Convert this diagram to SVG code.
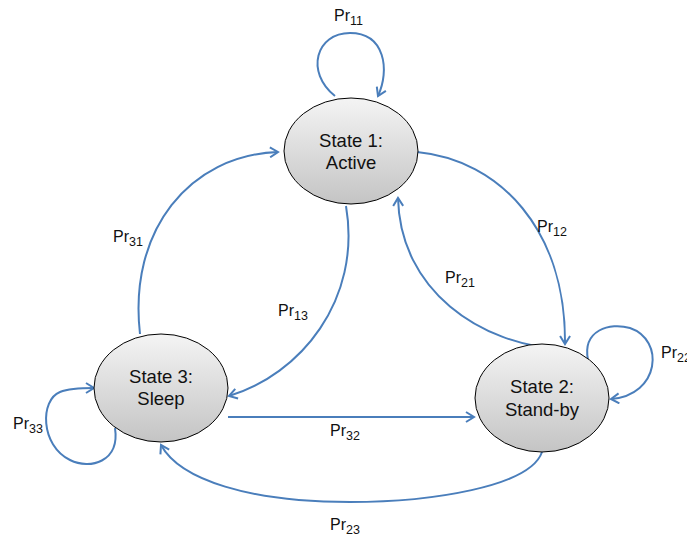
<svg xmlns="http://www.w3.org/2000/svg" width="687" height="542" viewBox="0 0 687 542">
  <style>
    .state { stroke: #000; stroke-width: 1; fill: url(#stateFill); }
    .name { font-family: "Liberation Sans", Arial, sans-serif; font-size: 18.5px; fill: #111; text-anchor: middle; }
    .edge { fill: none; stroke: #4a7ebb; stroke-width: 2; marker-end: url(#head); }
    .lbl { font-family: "Liberation Sans", Arial, sans-serif; font-size: 16px; fill: #111; }
    .sub { font-size: 12.5px; }
  </style>
  <defs>
    <linearGradient id="stateFill" x1="0" y1="0" x2="0" y2="1">
      <stop offset="0" stop-color="#f4f4f4"/>
      <stop offset="1" stop-color="#c4c4c4"/>
    </linearGradient>
    <marker id="head" viewBox="0 0 12 12" refX="10" refY="6" markerWidth="12" markerHeight="12" markerUnits="userSpaceOnUse" orient="auto">
      <path d="M2,1 L10,6 L2,11" fill="none" stroke="#4a7ebb" stroke-width="2"/>
    </marker>
  </defs>

  <!-- transitions -->
  <g id="connectors">
    <path id="e11" class="edge" d="M335,96 C305,72 316,33 350,33 C385,33 390,70 378,96"/>
    <path id="e12" class="edge" d="M417,152 C500,160 566,230 565,344"/>
    <path id="e21" class="edge" d="M562,349 C480,345 400,290 398,198"/>
    <path id="e31" class="edge" d="M140,334 C128,230 190,155 278,152"/>
    <path id="e13" class="edge" d="M346,206 C362,300 300,375 229,396"/>
    <path id="e32" class="edge" d="M228,417 L474,417"/>
    <path id="e23" class="edge" d="M542,452 C530,487 430,502 350,502 C250,502 180,480 161,445"/>
    <path id="e22" class="edge" d="M588,360 C582,330 610,322 630,328 C665,340 660,395 611,399"/>
    <path id="e33" class="edge" d="M115,428 C120,462 90,470 70,460 C40,445 40,400 60,392 C70,388 85,388 94,388"/>
  </g>

  <!-- states -->
  <g id="state1">
    <ellipse class="state" cx="351" cy="151" rx="67" ry="53"/>
    <text class="name" x="351" y="147">State 1:</text>
    <text class="name" x="351" y="169">Active</text>
  </g>
  <g id="state2">
    <ellipse class="state" cx="542" cy="398" rx="67" ry="54"/>
    <text class="name" x="542" y="393">State 2:</text>
    <text class="name" x="542" y="416">Stand-by</text>
  </g>
  <g id="state3">
    <ellipse class="state" cx="161" cy="388" rx="67" ry="54"/>
    <text class="name" x="161" y="383">State 3:</text>
    <text class="name" x="161" y="405">Sleep</text>
  </g>

  <!-- transition probabilities -->
  <g id="labels">
    <text class="lbl" x="334" y="21">Pr<tspan class="sub" dy="4">11</tspan></text>
    <text class="lbl" x="537" y="232">Pr<tspan class="sub" dy="4">12</tspan></text>
    <text class="lbl" x="445" y="283">Pr<tspan class="sub" dy="4">21</tspan></text>
    <text class="lbl" x="113" y="242">Pr<tspan class="sub" dy="4">31</tspan></text>
    <text class="lbl" x="278" y="316">Pr<tspan class="sub" dy="4">13</tspan></text>
    <text class="lbl" x="330" y="436">Pr<tspan class="sub" dy="4">32</tspan></text>
    <text class="lbl" x="330" y="530">Pr<tspan class="sub" dy="4">23</tspan></text>
    <text class="lbl" x="13" y="429">Pr<tspan class="sub" dy="4">33</tspan></text>
    <text class="lbl" x="661" y="358">Pr<tspan class="sub" dy="4">22</tspan></text>
  </g>
</svg>
